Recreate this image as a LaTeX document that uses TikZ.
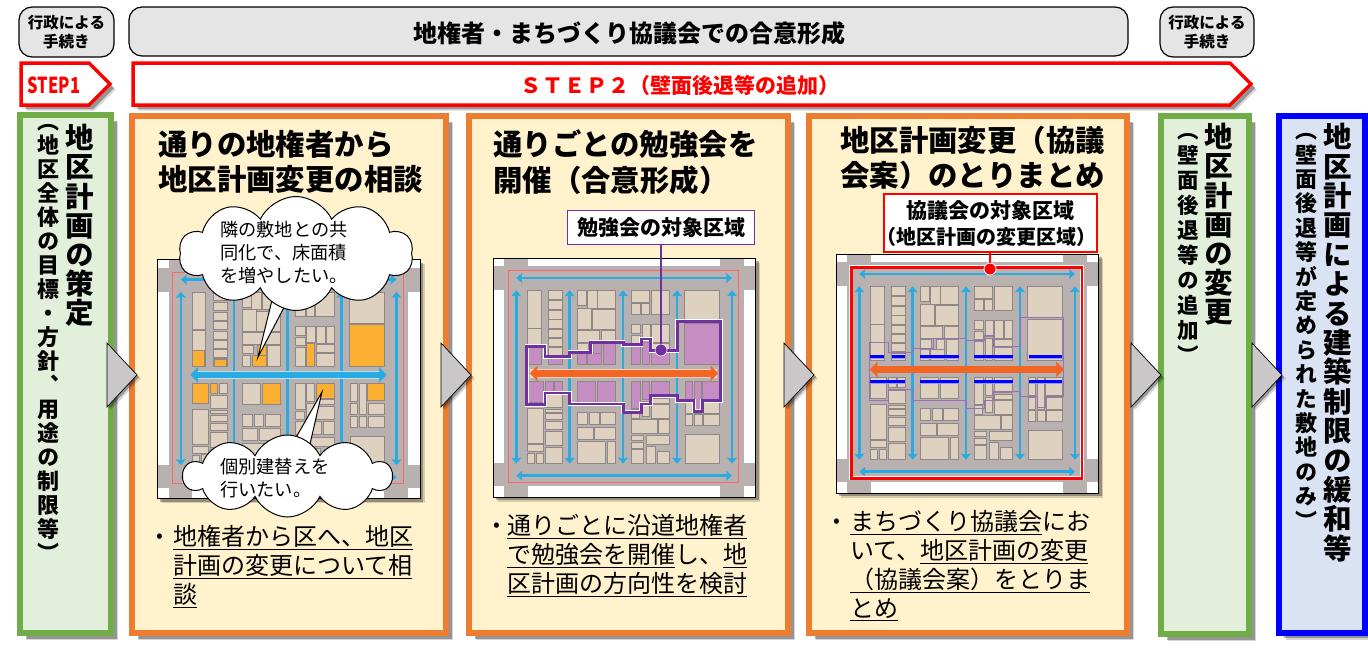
\documentclass[tikz,border=0pt]{standalone}
\usepackage{graphicx}
\usepackage{fontspec}
\setmainfont{Noto Sans CJK JP}
\newfontfamily\vertfont[RawFeature=+vert]{Noto Sans CJK JP}
\usetikzlibrary{arrows.meta,shadows,shapes.symbols}
\definecolor{panelorange}{HTML}{ED7D31}
\definecolor{panelcream}{HTML}{FFF2CC}
\definecolor{panelgreen}{HTML}{70AD47}
\definecolor{panelmint}{HTML}{E2EFDA}
\definecolor{panelblue}{HTML}{DAE3F3}
\definecolor{roadgray}{HTML}{B9B1AF}
\definecolor{lottan}{HTML}{DED1BF}
\definecolor{lotedge}{HTML}{8E8785}
\definecolor{streetblue}{HTML}{29ABE2}
\definecolor{mainorange}{HTML}{F26522}
\definecolor{lotorange}{HTML}{FBB034}
\definecolor{areapurple}{HTML}{7030A0}
\definecolor{lotpurple}{HTML}{C68DC3}
\definecolor{pilegray}{HTML}{E6E5E5}
\definecolor{tipgray}{HTML}{C9C7C8}
\def\fs#1#2{\fontsize{#1}{#2}\selectfont}
% one upright character under the other, #1 is the distance between them in pt
\makeatletter
\def\tallstack#1#2{\vbox{\offinterlineskip\@tfor\tallchar:=#2\do{\hbox{\vrule height \dimexpr 0.38em+#1pt/2\relax depth \dimexpr #1pt/2-0.38em\relax width 0pt\tallchar}}}}
\makeatother
% lots of the block plan, all three plans share them
\def\lotlist{142/272/182/385, 142/387/182/495,
	205/272/246/298, 205/302/246/328, 205/332/246/358, 205/360/246/385, 205/389/246/413, 205/417/246/440, 205/444/246/468, 205/472/246/495,
	292/272/318/318, 320/272/350/325, 352/272/405/325, 292/325/333/390, 335/330/405/390, 292/392/358/428, 362/392/405/428, 292/432/325/457, 292/462/317/495, 322/462/364/495, 338/432/364/462, 368/432/405/495,
	452/272/508/308, 512/272/568/345, 452/312/480/345, 484/312/508/345,
	452/375/480/402, 485/375/510/422, 513/375/540/427, 543/375/567/427, 452/407/480/432, 452/437/480/495, 485/427/508/495, 513/430/567/452, 513/455/567/495,
	613/272/718/365, 613/370/718/495,
	142/545/190/607, 195/545/218/575, 222/545/246/575, 195/583/246/622, 142/625/190/730, 195/628/246/637, 195/642/246/660, 195/665/246/688, 195/694/246/738, 142/735/190/755, 142/762/163/790, 168/760/190/790, 195/744/246/790,
	292/545/345/608, 352/545/405/608, 292/638/322/675, 328/638/356/675, 360/638/405/675, 292/682/338/718, 343/682/405/718, 292/725/375/790, 380/725/405/790,
	452/545/480/625, 485/545/508/600, 513/545/567/590, 513/595/567/610, 485/605/508/650, 513/615/567/655, 452/630/478/655, 452/660/530/700, 535/660/567/700, 452/707/490/722, 452/727/490/745, 497/707/567/735, 452/750/490/790, 497/740/525/790, 532/755/567/790,
	615/545/637/600, 643/545/663/640, 667/545/718/598, 615/605/637/640, 670/605/718/640, 615/645/637/678, 643/645/665/678, 670/645/718/678, 615/705/718/790}
\def\orangelist{143/447/178/495, 207/475/243/495, 322/462/364/495, 338/432/364/462, 485/427/508/495, 613/370/718/495,
	142/545/190/607, 195/545/218/575, 352/545/405/608, 513/545/567/590, 667/545/718/598}
\def\areapath{(139,440) -- (194,440) -- (194,471) -- (268,471) -- (268,458) -- (331,458) -- (331,428) -- (429,428) -- (429,435) -- (483,435) -- (483,418) -- (511,418) -- (511,453) -- (591,453) -- (591,365) -- (721,365) -- (721,603) -- (666,603) -- (666,635) -- (641,635) -- (641,603) -- (591,603) -- (591,588) -- (511,588) -- (511,613) -- (483,613) -- (483,638) -- (429,638) -- (429,613) -- (268,613) -- (268,580) -- (194,580) -- (194,615) -- (139,615) -- cycle}
\newcommand\blockplan{%
	\draw[fill=roadgray, softshadow=3] (38,175) rectangle (826,892);
	\foreach \xa/\ya/\xb/\yb in {38/175/72/200, 143/175/718/200, 790/175/826/200, 38/272/72/790, 790/272/826/790, 38/860/72/892, 143/860/718/892, 790/860/826/892}
		\fill[white] (\xa,\ya) rectangle (\xb,\yb);
	\draw[black, line width=0.9pt] (38,175) rectangle (826,892);
	\foreach \xa/\ya/\xb/\yb in \lotlist
		\draw[plotlot] (\xa,\ya) rectangle (\xb,\yb);
	\draw[red!60!white, line width=1pt] (83,213) rectangle (775,848);
	\draw[streetline] (108,235) -- (755,235);
	\draw[streetline] (108,828) -- (755,828);
	\foreach \xa in {108,268,428,590,755}
		\draw[streetline] (\xa,272) -- (\xa,792);
}
\tikzset{
	plotlot/.style={fill=lottan, draw=lotedge, line width=0.6pt},
	streetline/.style={streetblue, line width=2.5pt, {Stealth[width=10pt,length=6pt,inset=1pt]}-{Stealth[width=10pt,length=6pt,inset=1pt]}},
	wideline/.style={line width=6.5pt, {Stealth[width=15.5pt,length=8pt,inset=1pt]}-{Stealth[width=15.5pt,length=8pt,inset=1pt]}},
	planscope/.style 2 args={shift={(#1-12.67,#2-58.33)}, x=0.33333pt, y=-0.33333pt},
	softshadow/.style={drop shadow={shadow xshift=#1pt+1.5pt, shadow yshift=-#1pt-1.5pt, opacity=0.16, fill=black},
		drop shadow={shadow xshift=#1pt, shadow yshift=-#1pt, opacity=0.3, fill=black}},
	panel/.style={draw=panelorange, fill=panelcream, line width=6pt, softshadow=5.5},
	sidepanel/.style={draw=panelgreen, fill=panelmint, line width=6pt, softshadow=5.5},
	pill/.style={draw=black, fill=pilegray, line width=1.2pt, rounded corners=13pt},
	stepline/.style={draw=red, fill=white, line width=3.5pt, softshadow=4, line join=miter},
	pointer/.style={draw=black, fill=tipgray, line width=0.7pt, softshadow=2},
	heading/.style={anchor=west, inner sep=0pt, align=left, font=\fs{29.4}{35.5}\bfseries},
	bodytext/.style={anchor=north west, inner sep=0pt, align=left, font=\fs{24}{29}},
	bulletmark/.style={anchor=center, inner sep=0pt, font=\fs{20}{20}},
	tallmain/.style={anchor=north, inner sep=0pt, font=\fs{28.5}{29}\vertfont\bfseries},
	tallsub/.style={anchor=north, inner sep=0pt, font=\fs{22}{22}\vertfont\bfseries},
	puff/.style={cloud, cloud puffs=10, cloud puff arc=130, draw=black, fill=white, line width=1pt, aspect=2.1},
	talk/.style={anchor=north west, inner sep=0pt, align=left, font=\fs{18.2}{23}},
	talktail/.style={draw=black, fill=white, line width=1pt, line join=miter},
	pilltext/.style={inner sep=0pt, align=center, font=\fs{15.5}{19}\bfseries}
}
\begin{document}
\begin{tikzpicture}[x=1pt, y=-1pt]
		%%%%% START %%%%%
		\useasboundingbox (0,0) rectangle (1368,648);
		
		\draw[pill] (19,7) rectangle (114,57);
		\node[pilltext] (leftpilltext) at (66.5,32) {行政による\\手続き};
		\draw[pill] (129,7) rectangle (1128,56);
		\node[inner sep=0pt, font=\fs{24}{24}\bfseries] (toppilltext) at (629,33) {地権者・まちづくり協議会での合意形成};
		\draw[pill] (1160,7) rectangle (1254,57);
		\node[pilltext] (rightpilltext) at (1207,32) {行政による\\手続き};
		
		\draw[stepline] (21,63) -- (89,63) -- (110,84) -- (89,105) -- (21,105) -- cycle;
		\node[red, inner sep=0pt, font=\fs{22}{22}\bfseries] (stepone) at (54,85) {\scalebox{0.75}[1]{STEP1}};
		\draw[stepline] (133,63) -- (1230,63) -- (1251,84) -- (1230,105) -- (133,105) -- cycle;
		\node[red, inner sep=0pt, font=\fs{21}{21}\bfseries] (steptwo) at (680,85) {Ｓ\hspace{1pt}Ｔ\hspace{1pt}Ｅ\hspace{1pt}Ｐ\hspace{1pt}２（壁面後退等の追加）};
		
		\draw[sidepanel] (20,115) rectangle (111,633);
		\draw[panel] (132,116) rectangle (446,633);
		\draw[panel] (469,116) rectangle (788,633);
		\draw[panel] (809,116) rectangle (1127,633);
		\draw[sidepanel] (1161,116) rectangle (1249,634);
		\draw[draw=blue, fill=panelblue, line width=5.5pt, softshadow=5] (1279,116) rectangle (1365,633);
		
		\foreach \tipx in {107,441,784,1131,1252}
			\draw[pointer] (\tipx,343) -- (\tipx+30,375) -- (\tipx,407) -- cycle;
		
		\node[tallmain] (firstmain) at (80,123) {\tallstack{29.2}{地区計画の策定}};
		\node[tallsub] (firstsub) at (48.5,109) {\tallstack{24}{（地区全体の目標・方針、用途の制限等）}};
		\node[tallmain] (changemain) at (1219,122) {\tallstack{29.2}{地区計画の変更}};
		\node[tallsub, font=\fs{21.5}{22}\vertfont\bfseries] (changesub) at (1188,117.5) {\tallstack{25}{（壁面後退等の追加）}};
		\node[tallmain] (limitmain) at (1338,122) {\tallstack{29.4}{地区計画による建築制限の緩和等}};
		\node[tallsub] (limitsub) at (1306,118) {\tallstack{24.4}{（壁面後退等が定められた敷地のみ）}};
		
		\node[heading] (headone) at (158,162) {通りの地権者から\\地区計画変更の相談};
		\node[heading] (headtwo) at (493,162) {通りごとの勉強会を\\開催（合意形成）};
		\node[heading] (headthree) at (840,158) {地区計画変更（協議\\会案）のとりまとめ};
		
		% first plan
		\begin{scope}[planscope={157.5}{259.5}]
			\blockplan
			\foreach \xa/\ya/\xb/\yb in \orangelist
				\draw[plotlot, fill=lotorange] (\xa,\ya) rectangle (\xb,\yb);
			\draw[white!65!streetblue, line width=8.5pt] (150,521) -- (710,521);
			\draw[wideline, streetblue] (136,521) -- (726,521);
		\end{scope}
		
		\draw[talktail] (273,296) -- (258,357) -- (290,296);
		\node[puff, minimum width=234pt, minimum height=114pt, inner sep=0pt] (cloudone) at (296,253.5) {};
		\node[talk] (talkone) at (220,221) {隣の敷地との共\\同化で、床面積\\を増やしたい。};
		
		\draw[talktail] (290,448) -- (322,392) -- (310,444);
		\node[puff, minimum width=208pt, minimum height=82pt, inner sep=0pt] (cloudtwo) at (287.5,476) {};
		\node[talk] (talktwo) at (220,458) {個別建替えを\\行いたい。};
		
		% second plan
		\begin{scope}[planscope={493}{258}]
			\blockplan
			\begin{scope}
				\clip \areapath;
				\foreach \xa/\ya/\xb/\yb in \lotlist
					\draw[plotlot, fill=lotpurple] (\xa,\ya) rectangle (\xb,\yb);
			\end{scope}
			\draw[white, line width=4.2pt] \areapath;
			\draw[areapurple, line width=2.6pt] \areapath;
			\draw[white!70!mainorange, line width=8.5pt] (150,521) -- (710,521);
			\draw[wideline, mainorange] (148,521) -- (714,521);
		\end{scope}
		
		\node[draw=areapurple, fill=white, line width=1.8pt, minimum width=187pt, minimum height=34pt, inner sep=0pt, font=\fs{21}{21}\bfseries] (studylabel) at (661,227.5) {勉強会の対象区域};
		\node[circle, fill=areapurple, draw=white, line width=0.6pt, minimum size=12pt, inner sep=0pt] (studydot) at (661,350) {};
		\draw[areapurple, line width=2.2pt] (studylabel) -- (studydot);
		
		% third plan
		\begin{scope}[planscope={836}{254}]
			\blockplan
			\draw[areapurple!70!white, line width=0.9pt] \areapath;
			\foreach \xa/\xb in {141/181,206/246,291/406,453/568,616/716} {
				\draw[white!60!blue, line width=4pt] (\xa,483) -- (\xb,483);
				\draw[blue, line width=2.6pt] (\xa,483) -- (\xb,483);
			}
			\foreach \xa/\xb in {141/246,291/406,453/568,616/716} {
				\draw[white!60!blue, line width=4pt] (\xa,558) -- (\xb,558);
				\draw[blue, line width=2.6pt] (\xa,558) -- (\xb,558);
			}
			\draw[wideline, mainorange] (139,521) -- (722,521);
			\draw[white, line width=3.8pt] (84,215) rectangle (776,848);
			\draw[red, line width=2.4pt] (84,215) rectangle (776,848);
		\end{scope}
		
		\node[draw=red, fill=white, line width=1.5pt, minimum width=213pt, minimum height=58pt, inner sep=0pt, align=center, font=\fs{21}{26}\bfseries] (councillabel) at (990.5,223) {協議会の対象区域\\{\fs{20}{26}\bfseries\hspace{-0.4em}（地区計画の変更区域）\hspace{-0.4em}}};
		\node[circle, draw=white, fill=red, line width=0.8pt, minimum size=12pt, inner sep=0pt] (councildot) at (990,269) {};
		\draw[red, line width=2pt] (councillabel) -- (councildot);
		
		% texts under the plans
		\node[bulletmark] (markone) at (160,538) {•};
		\node[bodytext] (bodyone) at (173,525.5) {\underline{地権者から区へ、地区}\\\underline{計画の変更について相}\\\underline{談}};
		\node[bulletmark] (marktwo) at (497,527) {•};
		\node[bodytext] (bodytwo) at (507,514.5) {\underline{通りごとに沿道地権者}\\\underline{で勉強会を開催}し、\underline{地}\\\underline{区計画の方向性を検討}};
		\node[bulletmark] (markthree) at (837,523) {•};
		\node[bodytext] (bodythree) at (850,510) {\underline{まちづくり協議会}にお\\いて、\underline{地区計画の変更}\\\underline{（協議会案）をとりま}\\\underline{とめ}};
		
		%%%%% END %%%%%
	\end{tikzpicture}
\end{document}
